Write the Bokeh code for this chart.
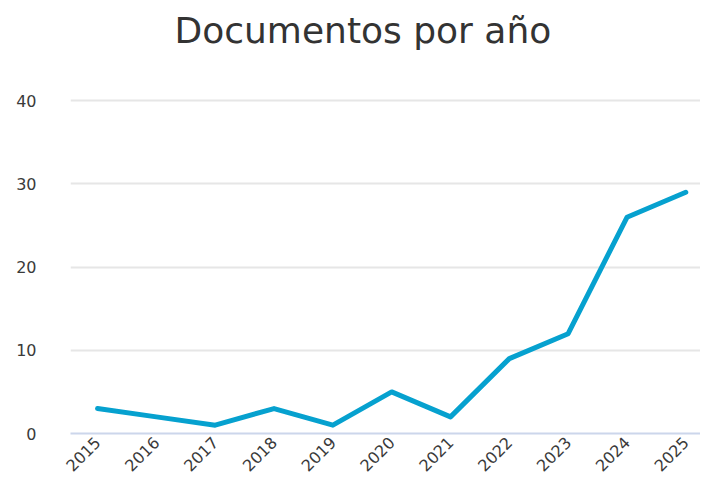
from bokeh.plotting import figure
from bokeh.models import FixedTicker, Range1d, Title
from bokeh.embed import file_html
from bokeh.resources import INLINE
import math

years = [2015, 2016, 2017, 2018, 2019, 2020, 2021, 2022, 2023, 2024, 2025]
docs = [3, 2, 1, 3, 1, 5, 2, 9, 12, 26, 29]
y_ticks = [0, 10, 20, 30, 40]
title_text = "Documentos por año"

FONT = "DejaVu Sans"

p = figure(width=700, height=479, output_backend="svg", toolbar_location=None,
           x_range=Range1d(2014.54, 2025.25), y_range=Range1d(0, 40.4),
           title=title_text)
p.min_border_left = 70
p.min_border_right = 0
p.min_border_top = 97
p.min_border_bottom = 0
p.outline_line_color = None

# spacer between title and plot area
p.add_layout(Title(text=" ", text_font_size="10px", standoff=32), "above")

p.title.align = "left"
p.title.offset = 104
p.title.text_font = FONT
p.title.text_font_size = "36px"
p.title.text_font_style = "normal"
p.title.text_color = "#333333"
p.title.standoff = 0
p.title.vertical_align = "top"

p.line(years, docs, line_color="#06a1cf", line_width=5, line_join="round", line_cap="round")

p.xaxis.ticker = FixedTicker(ticks=years)
p.xaxis.major_label_orientation = math.pi / 4
p.xaxis.major_label_text_font = FONT
p.xaxis.major_label_text_font_size = "16px"
p.xaxis.major_label_text_color = "#3a3a3a"
p.xaxis.axis_line_color = "#ccd6eb"
p.xaxis.axis_line_width = 2
p.xaxis.major_tick_line_color = None
p.xaxis.major_tick_out = 0
p.xaxis.major_tick_in = 0
p.xaxis.minor_tick_line_color = None
p.xaxis.major_label_standoff = 6

p.yaxis.ticker = FixedTicker(ticks=y_ticks)
p.yaxis.major_label_text_font = FONT
p.yaxis.major_label_text_font_size = "16px"
p.yaxis.major_label_text_color = "#3a3a3a"
p.yaxis.axis_line_color = None
p.yaxis.major_tick_line_color = None
p.yaxis.minor_tick_line_color = None
p.yaxis.major_label_standoff = 28

p.xgrid.grid_line_color = None
p.ygrid.grid_line_color = "#e6e6e6"
p.ygrid.grid_line_width = 2

open("out.html", "w").write(file_html(p, INLINE))
